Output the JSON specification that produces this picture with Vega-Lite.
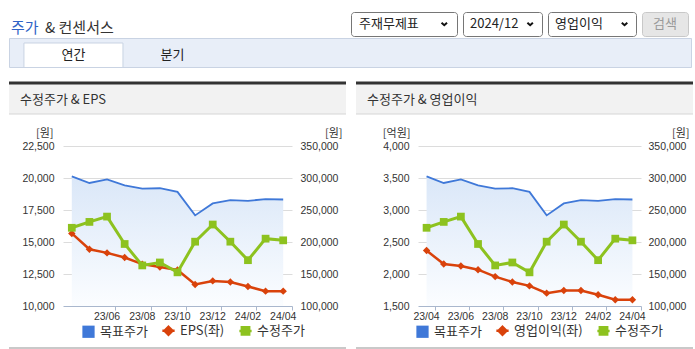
{
  "$schema": "https://vega.github.io/schema/vega-lite/v6.json",
  "background": "white",
  "padding": {"left": 7, "top": 11, "right": 0, "bottom": 0},
  "config": {
    "view": {"stroke": null},
    "font": "Noto Sans CJK KR",
    "text": {"font": "Noto Sans CJK KR"},
    "axis": {"labelFont": "Liberation Sans", "titleFont": "Noto Sans CJK KR"},
    "axisBand": {"tickExtra": false}
  },
  "datasets": {
    "target": [
      {"m": "23/04", "s": "목표주가", "v": 302600}, {"m": "23/05", "s": "목표주가", "v": 292200},
      {"m": "23/06", "s": "목표주가", "v": 297900}, {"m": "23/07", "s": "목표주가", "v": 288600},
      {"m": "23/08", "s": "목표주가", "v": 283500}, {"m": "23/09", "s": "목표주가", "v": 284000},
      {"m": "23/10", "s": "목표주가", "v": 278300}, {"m": "23/11", "s": "목표주가", "v": 241600},
      {"m": "23/12", "s": "목표주가", "v": 260200}, {"m": "24/01", "s": "목표주가", "v": 265400},
      {"m": "24/02", "s": "목표주가", "v": 264300}, {"m": "24/03", "s": "목표주가", "v": 266900},
      {"m": "24/04", "s": "목표주가", "v": 266400}
    ],
    "price": [
      {"m": "23/04", "s": "수정주가", "v": 222200}, {"m": "23/05", "s": "수정주가", "v": 231400},
      {"m": "23/06", "s": "수정주가", "v": 239700}, {"m": "23/07", "s": "수정주가", "v": 196900},
      {"m": "23/08", "s": "수정주가", "v": 163400}, {"m": "23/09", "s": "수정주가", "v": 168000},
      {"m": "23/10", "s": "수정주가", "v": 152600}, {"m": "23/11", "s": "수정주가", "v": 200500},
      {"m": "23/12", "s": "수정주가", "v": 227300}, {"m": "24/01", "s": "수정주가", "v": 200500},
      {"m": "24/02", "s": "수정주가", "v": 171600}, {"m": "24/03", "s": "수정주가", "v": 205200},
      {"m": "24/04", "s": "수정주가", "v": 202600}
    ],
    "eps": [
      {"m": "23/04", "s": "EPS(좌)", "v": 15670}, {"m": "23/05", "s": "EPS(좌)", "v": 14430},
      {"m": "23/06", "s": "EPS(좌)", "v": 14150}, {"m": "23/07", "s": "EPS(좌)", "v": 13790},
      {"m": "23/08", "s": "EPS(좌)", "v": 13270}, {"m": "23/09", "s": "EPS(좌)", "v": 13040},
      {"m": "23/10", "s": "EPS(좌)", "v": 12810}, {"m": "23/11", "s": "EPS(좌)", "v": 11680},
      {"m": "23/12", "s": "EPS(좌)", "v": 11960}, {"m": "24/01", "s": "EPS(좌)", "v": 11880},
      {"m": "24/02", "s": "EPS(좌)", "v": 11520}, {"m": "24/03", "s": "EPS(좌)", "v": 11160},
      {"m": "24/04", "s": "EPS(좌)", "v": 11160}
    ],
    "op": [
      {"m": "23/04", "s": "영업이익(좌)", "v": 2366}, {"m": "23/05", "s": "영업이익(좌)", "v": 2155},
      {"m": "23/06", "s": "영업이익(좌)", "v": 2124}, {"m": "23/07", "s": "영업이익(좌)", "v": 2067},
      {"m": "23/08", "s": "영업이익(좌)", "v": 1959}, {"m": "23/09", "s": "영업이익(좌)", "v": 1876},
      {"m": "23/10", "s": "영업이익(좌)", "v": 1814}, {"m": "23/11", "s": "영업이익(좌)", "v": 1701},
      {"m": "23/12", "s": "영업이익(좌)", "v": 1742}, {"m": "24/01", "s": "영업이익(좌)", "v": 1742},
      {"m": "24/02", "s": "영업이익(좌)", "v": 1675}, {"m": "24/03", "s": "영업이익(좌)", "v": 1598},
      {"m": "24/04", "s": "영업이익(좌)", "v": 1598}
    ]
  },
  "spacing": 12,
  "vconcat": [
    {
      "spacing": 0,
      "vconcat": [
        {
          "spacing": 6,
          "bounds": "flush",
          "hconcat": [
            {
              "width": 336, "height": 24,
              "data": {"values": [{"a": "주가", "b": "& 컨센서스"}]},
              "layer": [
                {"mark": {"type": "text", "align": "left", "baseline": "middle", "fontSize": 15, "color": "#2f63c6", "dx": 2, "dy": 4},
                 "encoding": {"x": {"datum": 0, "scale": {"domain": [0, 1]}, "axis": null}, "text": {"field": "a"}}},
                {"mark": {"type": "text", "align": "left", "baseline": "middle", "fontSize": 15, "color": "#333333", "dx": 36, "dy": 4},
                 "encoding": {"x": {"datum": 0, "scale": {"domain": [0, 1]}, "axis": null}, "text": {"field": "b"}}}
              ]
            },
            {
              "width": 106, "height": 24,
              "view": {"stroke": "#767676", "cornerRadius": 3, "fill": "white"},
              "data": {"values": [{"t": "주재무제표"}]},
              "layer": [
                {"mark": {"type": "text", "align": "left", "fontSize": 13, "color": "#222222", "dx": 8},
                 "encoding": {"x": {"datum": 0, "scale": {"domain": [0, 1]}, "axis": null}, "text": {"field": "t"}}},
                {"mark": {"type": "point", "shape": "M-1,-0.45L0,0.45L1,-0.45", "filled": false, "strokeWidth": 2, "color": "#111111", "size": 30, "opacity": 1},
                 "encoding": {"x": {"datum": 0.88, "scale": {"domain": [0, 1]}, "axis": null}}}
              ]
            },
            {
              "width": 79, "height": 24,
              "view": {"stroke": "#767676", "cornerRadius": 3, "fill": "white"},
              "data": {"values": [{"t": "2024/12"}]},
              "layer": [
                {"mark": {"type": "text", "align": "left", "fontSize": 13, "color": "#222222", "dx": 7},
                 "encoding": {"x": {"datum": 0, "scale": {"domain": [0, 1]}, "axis": null}, "text": {"field": "t"}}},
                {"mark": {"type": "point", "shape": "M-1,-0.45L0,0.45L1,-0.45", "filled": false, "strokeWidth": 2, "color": "#111111", "size": 30, "opacity": 1},
                 "encoding": {"x": {"datum": 0.85, "scale": {"domain": [0, 1]}, "axis": null}}}
              ]
            },
            {
              "width": 88, "height": 24,
              "view": {"stroke": "#767676", "cornerRadius": 3, "fill": "white"},
              "data": {"values": [{"t": "영업이익"}]},
              "layer": [
                {"mark": {"type": "text", "align": "left", "fontSize": 13, "color": "#222222", "dx": 7},
                 "encoding": {"x": {"datum": 0, "scale": {"domain": [0, 1]}, "axis": null}, "text": {"field": "t"}}},
                {"mark": {"type": "point", "shape": "M-1,-0.45L0,0.45L1,-0.45", "filled": false, "strokeWidth": 2, "color": "#111111", "size": 30, "opacity": 1},
                 "encoding": {"x": {"datum": 0.87, "scale": {"domain": [0, 1]}, "axis": null}}}
              ]
            },
            {
              "width": 46, "height": 24,
              "view": {"stroke": "#c8c8c8", "cornerRadius": 3, "fill": "#e6e6e6"},
              "data": {"values": [{"t": "검색"}]},
              "mark": {"type": "text", "fontSize": 13, "color": "#9a9a9a"},
              "encoding": {"text": {"field": "t"}}
            }
          ]
        },
        {
          "width": 682, "height": 29,
          "view": {"stroke": "#c9d3e3", "fill": "#e8eef8"},
          "data": {"values": [{"tab": "연간", "on": true}, {"tab": "분기", "on": false}]},
          "encoding": {
            "x": {"field": "tab", "type": "nominal", "axis": null,
                  "scale": {"type": "band", "domain": ["연간", "분기", "_3", "_4", "_5", "_6"], "paddingInner": 0, "paddingOuter": 0.444, "align": 0.17}}
          },
          "layer": [
            {"transform": [{"filter": "datum.on"}],
             "mark": {"type": "rect", "fill": "white", "stroke": "#c9d3e3", "strokeWidth": 1},
             "encoding": {"y": {"datum": 24, "scale": {"domain": [0, 29]}, "axis": null}, "y2": {"datum": -0.5}}},
            {"mark": {"type": "text", "fontSize": 13, "color": "#222222"},
             "encoding": {"text": {"field": "tab"}, "y": {"datum": 12, "scale": {"domain": [0, 29]}, "axis": null}}}
          ]
        }
      ]
    },
    {
      "spacing": 6,
      "resolve": {"scale": {"color": "independent"}, "legend": {"color": "independent"}},
      "hconcat": [
        {
          "spacing": 2,
          "resolve": {"scale": {"color": "independent"}, "legend": {"color": "independent"}},
          "vconcat": [
            {
              "spacing": 12,
              "resolve": {"scale": {"color": "independent"}, "legend": {"color": "independent"}},
              "vconcat": [
                {
                  "width": 337, "height": 31,
                  "view": {"fill": "#f2f2f2"},
                  "data": {"values": [{"t": "수정주가 & EPS"}]},
                  "layer": [
                    {"mark": {"type": "rule", "color": "#d6d6d6", "strokeWidth": 1},
                     "encoding": {"y": {"datum": 0, "scale": {"domain": [0, 1]}, "axis": null}}},
                    {"mark": {"type": "rule", "color": "#333333", "strokeWidth": 3},
                     "encoding": {"y": {"datum": 1, "scale": {"domain": [0, 1]}, "axis": null}}},
                    {"mark": {"type": "text", "align": "left", "fontSize": 13, "color": "#333333", "dx": 11, "dy": 1},
                     "encoding": {"x": {"datum": 0, "scale": {"domain": [0, 1]}, "axis": null}, "y": {"datum": 0.5, "scale": {"domain": [0, 1]}, "axis": null}, "text": {"field": "t"}}}
                  ]
                },
                {
                  "spacing": 0,
                  "resolve": {"scale": {"color": "independent"}, "legend": {"color": "independent"}},
                  "hconcat": [
                    {
                      "width": 1, "height": 1,
                      "data": {"values": []},
                      "mark": {"type": "text"},
                      "encoding": {"text": {"field": "t"}}
                    },
                    {
                      "width": 229, "height": 160,
                      "encoding": {
                        "x": {"field": "m", "type": "ordinal", "bandPosition": 0.5,
                              "scale": {"type": "band", "paddingInner": 0, "paddingOuter": 0,
                                        "domain": ["23/04","23/05","23/06","23/07","23/08","23/09","23/10","23/11","23/12","24/01","24/02","24/03","24/04"]},
                              "axis": {"title": null, "values": ["23/04","23/06","23/08","23/10","23/12","24/02","24/04"], "bandPosition": 1, "tickExtra": false, "labelAngle": 0,
                                       "labelOverlap": false, "labelBound": false, "labelFlush": false,
                                       "domain": true, "ticks": true, "domainColor": "#a9b7cd", "tickColor": "#a9b7cd", "domainWidth": 1, "tickWidth": 1, "tickSize": 4, "labelPadding": 1, "labelFontSize": 10.5, "labelColor": "#333333", "grid": false, "zindex": 1}}
                      },
                      "layer": [
                        {"data": {"name": "target"},
                         "mark": {"type": "area", "opacity": 1, "color": {"gradient": "linear", "x1": 0, "y1": 0, "x2": 0, "y2": 1, "stops": [{"offset": 0, "color": "#dae7f8"}, {"offset": 1, "color": "#fbfdff"}]}},
                         "encoding": {"y": {"field": "v", "type": "quantitative", "scale": {"domain": [100000, 350000], "nice": false, "zero": false}, "axis": null},
                                      "y2": {"datum": 100000}}},
                        {"data": {"name": "eps"},
                         "encoding": {"y": {"field": "v", "type": "quantitative", "scale": {"domain": [10000, 22500], "nice": false, "zero": false},
                                            "axis": {"orient": "left", "values": [10000, 12500, 15000, 17500, 20000, 22500], "format": ",d", "grid": true, "gridColor": "#dcdcdc",
                                                     "gridOpacity": {"condition": {"test": "datum.value === 10000", "value": 0}, "value": 1},
                                                     "domain": false, "ticks": false, "labelPadding": 9, "labelFontSize": 10.5, "labelColor": "#333333",
                                                     "minExtent": 53, "maxExtent": 53,
                                                     "title": "[원]", "titleAngle": 0, "titleAlign": "right", "titleBaseline": "bottom", "titleX": -10, "titleY": -8, "titleFontSize": 11, "titleFontWeight": "normal", "titleColor": "#333333"}}},
                         "layer": [
                           {"mark": {"type": "line", "strokeWidth": 2.5},
                            "encoding": {"color": {"field": "s", "type": "nominal",
                              "scale": {"domain": ["목표주가", "EPS(좌)", "수정주가"], "range": ["#3f78d8", "#d9420b", "#8dc21f"]},
                              "legend": {"orient": "none", "legendX": 19, "legendY": 178, "direction": "horizontal", "title": null,
                                         "symbolSize": 150, "labelFontSize": 13, "labelFont": "Noto Sans CJK KR", "labelColor": "#333333", "labelOffset": 5, "columnPadding": 9, "padding": 0,
                                         "encode": {"symbols": {"update": {
                                           "shape": {"signal": "datum.value === '목표주가' ? 'square' : datum.value === '수정주가' ? 'M-1,0L1,0M-0.6,-0.6L0.6,-0.6L0.6,0.6L-0.6,0.6Z' : 'M-1,0L1,0M0,-0.65L0.65,0L0,0.65L-0.65,0Z'"},
                                           "fill": {"signal": "datum.value === '목표주가' ? '#2a6ad9' : datum.value === '수정주가' ? '#8dc21f' : '#d9420b'"},
                                           "stroke": {"signal": "datum.value === '목표주가' ? '#2a6ad9' : datum.value === '수정주가' ? '#8dc21f' : '#d9420b'"},
                                           "strokeWidth": {"signal": "datum.value === '목표주가' ? 0 : 2.5"},
                                           "opacity": {"value": 1}, "fillOpacity": {"value": 1}}}}}}}},
                           {"mark": {"type": "point", "shape": "diamond", "filled": true, "size": 55, "opacity": 1},
                            "encoding": {"color": {"field": "s", "type": "nominal"}}}
                         ]},
                        {"encoding": {"y": {"field": "v", "type": "quantitative", "scale": {"domain": [100000, 350000], "nice": false, "zero": false},
                                            "axis": {"orient": "right", "values": [100000, 150000, 200000, 250000, 300000, 350000], "format": ",d", "grid": false,
                                                     "domain": false, "ticks": false, "labelPadding": 8, "labelFontSize": 10.5, "labelColor": "#333333",
                                                     "minExtent": 54, "maxExtent": 54,
                                                     "title": "[원]", "titleAngle": 0, "titleAlign": "right", "titleBaseline": "bottom", "titleX": 50, "titleY": -8, "titleFontSize": 11, "titleFontWeight": "normal", "titleColor": "#333333"}}},
                         "layer": [
                           {"data": {"name": "target"}, "mark": {"type": "line", "strokeWidth": 1.8},
                            "encoding": {"color": {"field": "s", "type": "nominal"}}},
                           {"data": {"name": "price"}, "mark": {"type": "line", "strokeWidth": 3},
                            "encoding": {"color": {"field": "s", "type": "nominal"}}},
                           {"data": {"name": "price"}, "mark": {"type": "point", "shape": "square", "filled": true, "size": 60, "opacity": 1},
                            "encoding": {"color": {"field": "s", "type": "nominal"}}}
                         ]}
                      ],
                      "resolve": {"scale": {"y": "independent"}}
                    }
                  ]
                }
              ]
            },
            {
              "width": 337, "height": 3,
              "view": {"fill": "#c9c9c9"},
              "data": {"values": [{"t": ""}]},
              "mark": {"type": "text"},
              "encoding": {"text": {"field": "t"}}
            }
          ]
        },
        {
          "spacing": 2,
          "resolve": {"scale": {"color": "independent"}, "legend": {"color": "independent"}},
          "vconcat": [
            {
              "spacing": 12,
              "resolve": {"scale": {"color": "independent"}, "legend": {"color": "independent"}},
              "vconcat": [
                {
                  "width": 337, "height": 31,
                  "view": {"fill": "#f2f2f2"},
                  "data": {"values": [{"t": "수정주가 & 영업이익"}]},
                  "layer": [
                    {"mark": {"type": "rule", "color": "#d6d6d6", "strokeWidth": 1},
                     "encoding": {"y": {"datum": 0, "scale": {"domain": [0, 1]}, "axis": null}}},
                    {"mark": {"type": "rule", "color": "#333333", "strokeWidth": 3},
                     "encoding": {"y": {"datum": 1, "scale": {"domain": [0, 1]}, "axis": null}}},
                    {"mark": {"type": "text", "align": "left", "fontSize": 13, "color": "#333333", "dx": 11, "dy": 1},
                     "encoding": {"x": {"datum": 0, "scale": {"domain": [0, 1]}, "axis": null}, "y": {"datum": 0.5, "scale": {"domain": [0, 1]}, "axis": null}, "text": {"field": "t"}}}
                  ]
                },
                {
                  "spacing": 0,
                  "resolve": {"scale": {"color": "independent"}, "legend": {"color": "independent"}},
                  "hconcat": [
                    {
                      "width": 1, "height": 1,
                      "data": {"values": []},
                      "mark": {"type": "text"},
                      "encoding": {"text": {"field": "t"}}
                    },
                    {
                      "width": 223, "height": 160,
                      "encoding": {
                        "x": {"field": "m", "type": "ordinal", "bandPosition": 0.5,
                              "scale": {"type": "band", "paddingInner": 0, "paddingOuter": 0,
                                        "domain": ["23/04","23/05","23/06","23/07","23/08","23/09","23/10","23/11","23/12","24/01","24/02","24/03","24/04"]},
                              "axis": {"title": null, "values": ["23/04","23/06","23/08","23/10","23/12","24/02","24/04"], "bandPosition": 1, "tickExtra": false, "labelAngle": 0,
                                       "labelOverlap": false, "labelBound": false, "labelFlush": false,
                                       "domain": true, "ticks": true, "domainColor": "#a9b7cd", "tickColor": "#a9b7cd", "domainWidth": 1, "tickWidth": 1, "tickSize": 4, "labelPadding": 1, "labelFontSize": 10.5, "labelColor": "#333333", "grid": false, "zindex": 1}}
                      },
                      "layer": [
                        {"data": {"name": "target"},
                         "mark": {"type": "area", "opacity": 1, "color": {"gradient": "linear", "x1": 0, "y1": 0, "x2": 0, "y2": 1, "stops": [{"offset": 0, "color": "#dae7f8"}, {"offset": 1, "color": "#fbfdff"}]}},
                         "encoding": {"y": {"field": "v", "type": "quantitative", "scale": {"domain": [100000, 350000], "nice": false, "zero": false}, "axis": null},
                                      "y2": {"datum": 100000}}},
                        {"data": {"name": "op"},
                         "encoding": {"y": {"field": "v", "type": "quantitative", "scale": {"domain": [1500, 4000], "nice": false, "zero": false},
                                            "axis": {"orient": "left", "values": [1500, 2000, 2500, 3000, 3500, 4000], "format": ",d", "grid": true, "gridColor": "#dcdcdc",
                                                     "gridOpacity": {"condition": {"test": "datum.value === 1500", "value": 0}, "value": 1},
                                                     "domain": false, "ticks": false, "labelPadding": 9, "labelFontSize": 10.5, "labelColor": "#333333",
                                                     "minExtent": 61, "maxExtent": 61,
                                                     "title": "[억원]", "titleAngle": 0, "titleAlign": "right", "titleBaseline": "bottom", "titleX": -8, "titleY": -8, "titleFontSize": 11, "titleFontWeight": "normal", "titleColor": "#333333"}}},
                         "layer": [
                           {"mark": {"type": "line", "strokeWidth": 2.5},
                            "encoding": {"color": {"field": "s", "type": "nominal",
                              "scale": {"domain": ["목표주가", "영업이익(좌)", "수정주가"], "range": ["#3f78d8", "#d9420b", "#8dc21f"]},
                              "legend": {"orient": "none", "legendX": -2, "legendY": 178, "direction": "horizontal", "title": null,
                                         "symbolSize": 150, "labelFontSize": 13, "labelFont": "Noto Sans CJK KR", "labelColor": "#333333", "labelOffset": 5, "columnPadding": 9, "padding": 0,
                                         "encode": {"symbols": {"update": {
                                           "shape": {"signal": "datum.value === '목표주가' ? 'square' : datum.value === '수정주가' ? 'M-1,0L1,0M-0.6,-0.6L0.6,-0.6L0.6,0.6L-0.6,0.6Z' : 'M-1,0L1,0M0,-0.65L0.65,0L0,0.65L-0.65,0Z'"},
                                           "fill": {"signal": "datum.value === '목표주가' ? '#2a6ad9' : datum.value === '수정주가' ? '#8dc21f' : '#d9420b'"},
                                           "stroke": {"signal": "datum.value === '목표주가' ? '#2a6ad9' : datum.value === '수정주가' ? '#8dc21f' : '#d9420b'"},
                                           "strokeWidth": {"signal": "datum.value === '목표주가' ? 0 : 2.5"},
                                           "opacity": {"value": 1}, "fillOpacity": {"value": 1}}}}}}}},
                           {"mark": {"type": "point", "shape": "diamond", "filled": true, "size": 55, "opacity": 1},
                            "encoding": {"color": {"field": "s", "type": "nominal"}}}
                         ]},
                        {"encoding": {"y": {"field": "v", "type": "quantitative", "scale": {"domain": [100000, 350000], "nice": false, "zero": false},
                                            "axis": {"orient": "right", "values": [100000, 150000, 200000, 250000, 300000, 350000], "format": ",d", "grid": false,
                                                     "domain": false, "ticks": false, "labelPadding": 7, "labelFontSize": 10.5, "labelColor": "#333333",
                                                     "minExtent": 52, "maxExtent": 52,
                                                     "title": "[원]", "titleAngle": 0, "titleAlign": "right", "titleBaseline": "bottom", "titleX": 48, "titleY": -8, "titleFontSize": 11, "titleFontWeight": "normal", "titleColor": "#333333"}}},
                         "layer": [
                           {"data": {"name": "target"}, "mark": {"type": "line", "strokeWidth": 1.8},
                            "encoding": {"color": {"field": "s", "type": "nominal"}}},
                           {"data": {"name": "price"}, "mark": {"type": "line", "strokeWidth": 3},
                            "encoding": {"color": {"field": "s", "type": "nominal"}}},
                           {"data": {"name": "price"}, "mark": {"type": "point", "shape": "square", "filled": true, "size": 60, "opacity": 1},
                            "encoding": {"color": {"field": "s", "type": "nominal"}}}
                         ]}
                      ],
                      "resolve": {"scale": {"y": "independent"}}
                    }
                  ]
                }
              ]
            },
            {
              "width": 337, "height": 3,
              "view": {"fill": "#c9c9c9"},
              "data": {"values": [{"t": ""}]},
              "mark": {"type": "text"},
              "encoding": {"text": {"field": "t"}}
            }
          ]
        }
      ]
    }
  ]
}
